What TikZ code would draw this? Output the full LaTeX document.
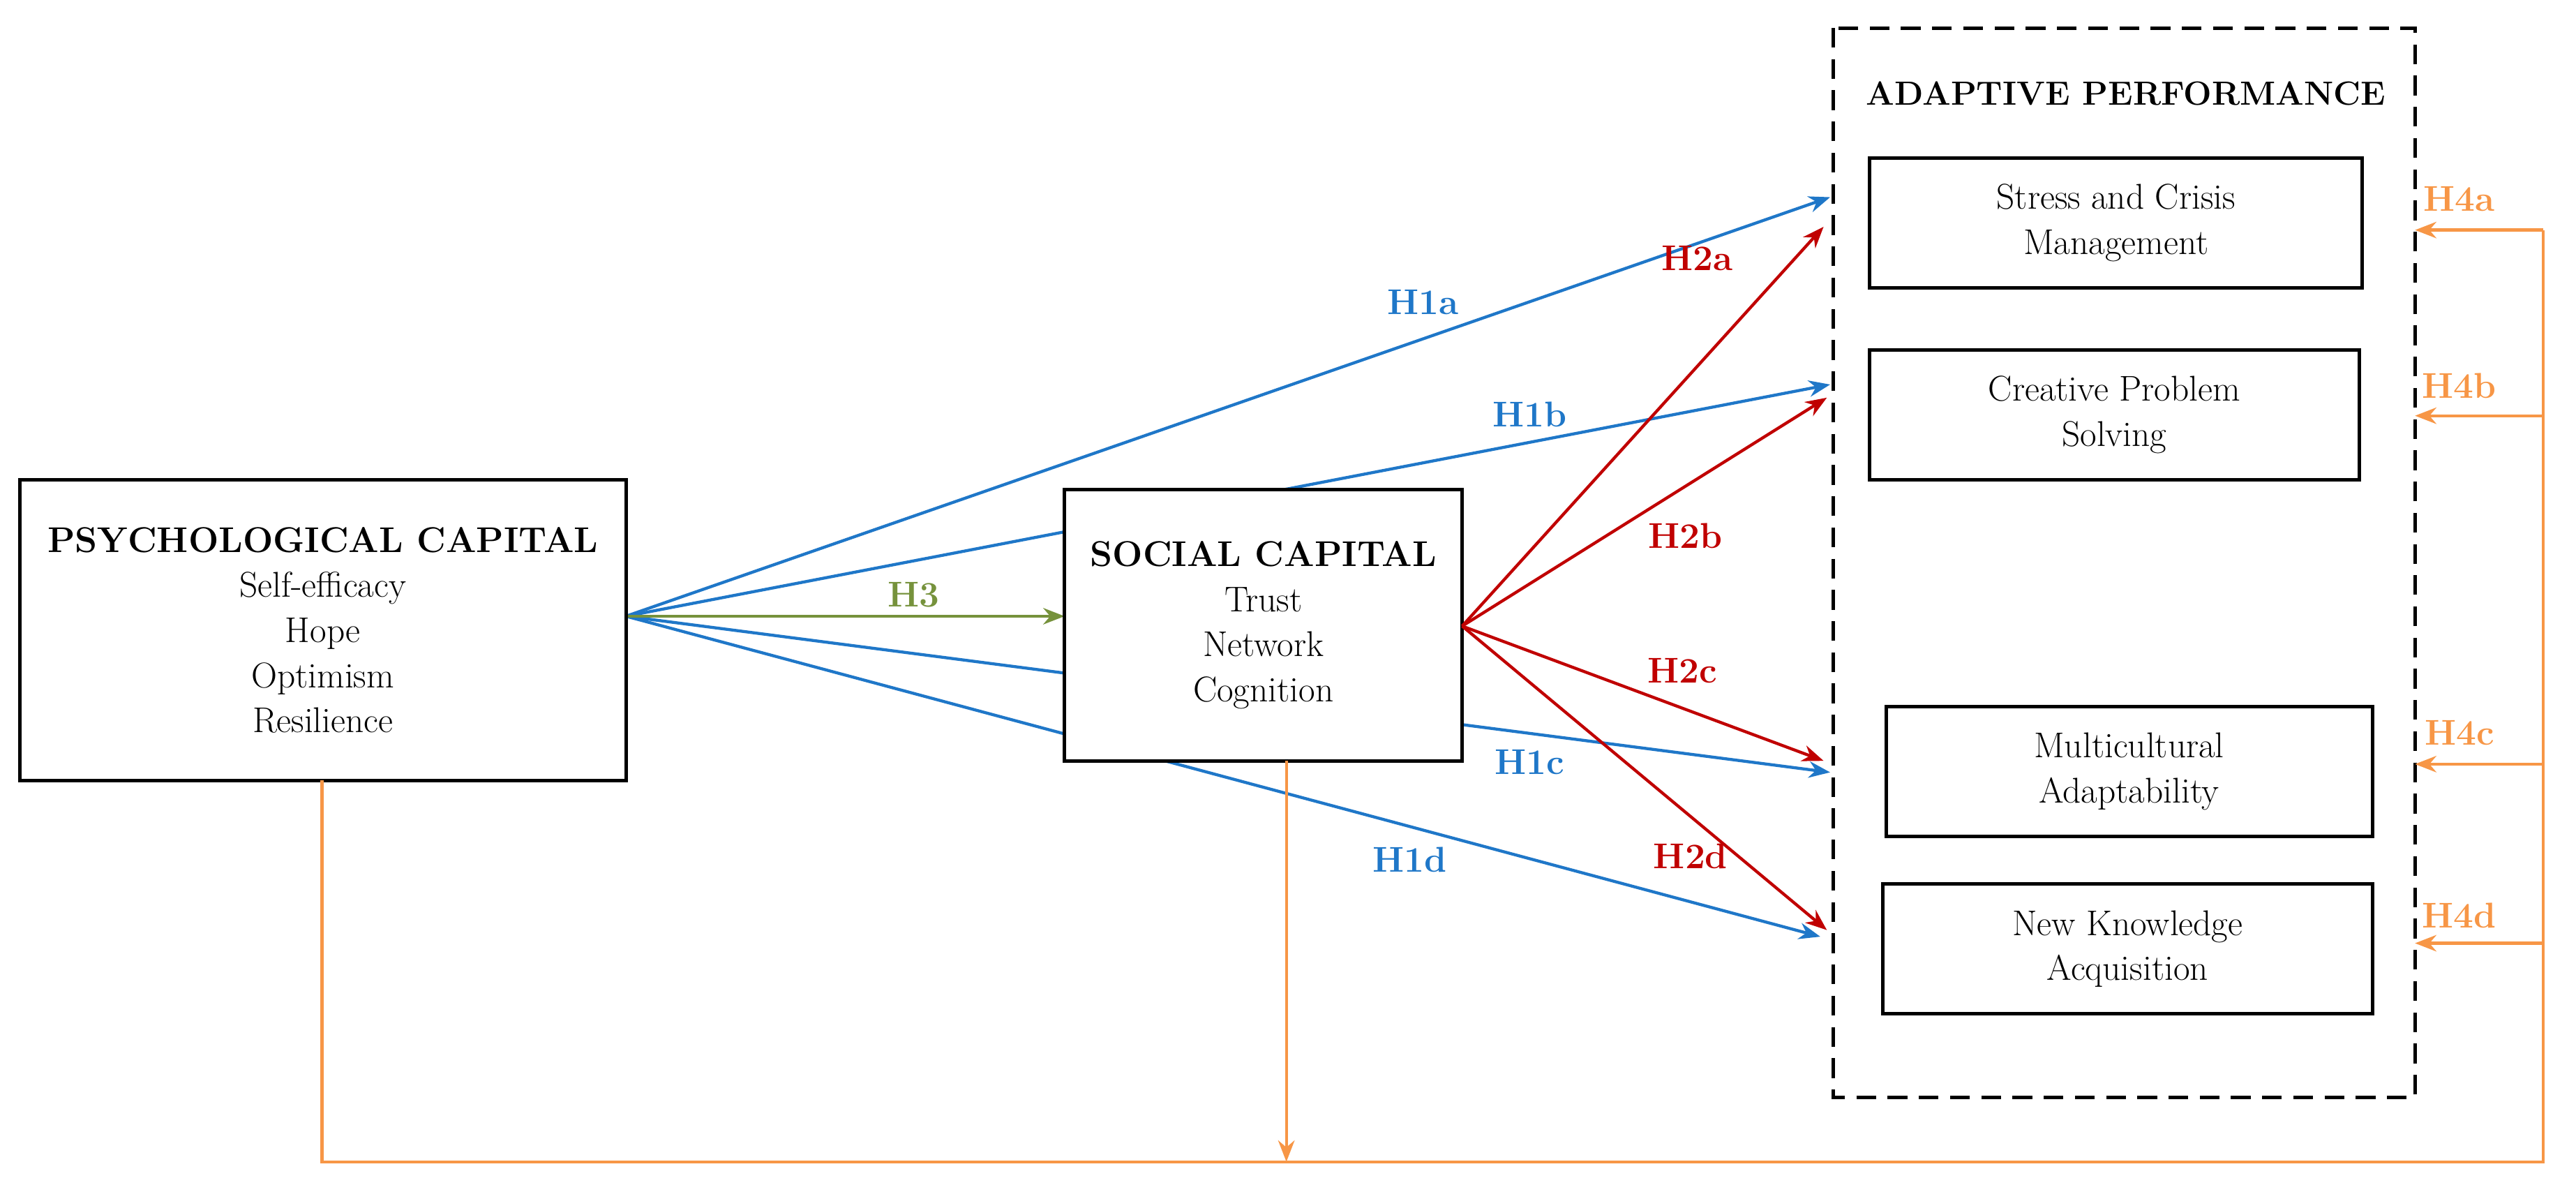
\documentclass[tikz,border=0pt]{standalone}
\usetikzlibrary{arrows.meta}
\definecolor{cblue}{HTML}{1F77C8}
\definecolor{cred}{HTML}{C00000}
\definecolor{cgreen}{HTML}{76923C}
\definecolor{corange}{HTML}{F79646}
\begin{document}
\begin{tikzpicture}[x=0.05cm,y=-0.05cm,
  txt/.style={font=\fontsize{31}{39}\selectfont,align=center},
  box/.style={draw,line width=3pt,fill=white,txt},
  lab/.style={font=\fontsize{31}{39}\selectfont\bfseries},
  arr/.style={line width=2.6pt,-{Stealth[length=0.65cm,width=0.5cm]}},
  ln/.style={line width=2.6pt}]
\useasboundingbox (0,0) rectangle (1568,725);
% anchor coordinates
\coordinate (p) at (381,375);
\coordinate (s) at (890,381);
\coordinate (t1a) at (1114,120);
\coordinate (t1b) at (1114,234);
\coordinate (t1c) at (1114,470);
\coordinate (t1d) at (1108,570);
\coordinate (t2a) at (1110,138);
\coordinate (t2b) at (1112,242);
\coordinate (t2c) at (1110,463);
\coordinate (t2d) at (1112,566);
\coordinate (t3) at (648,375);
% blue
\draw[arr,cblue] (p) -- (t1a);
\draw[arr,cblue] (p) -- (t1b);
\draw[arr,cblue] (p) -- (t1c);
\draw[arr,cblue] (p) -- (t1d);
\draw[arr,cgreen] (p) -- (t3);
% boxes
\node[box,minimum width=369\pgflinewidth,inner sep=0pt] (psy) at (196.5,383.5) [minimum width=18.45cm,minimum height=9.15cm] {\textbf{PSYCHOLOGICAL CAPITAL}\\Self-efficacy\\Hope\\Optimism\\Resilience};
\node[box,inner sep=0pt,minimum width=12.1cm,minimum height=8.25cm] (soc) at (769,380.5) {\textbf{SOCIAL CAPITAL}\\Trust\\Network\\Cognition};
\draw[line width=3pt,dash pattern=on 0.6cm off 0.35cm] (1116,17) rectangle (1470,668);
\node[lab,font=\fontsize{29}{36}\selectfont\bfseries] (ap) at (1294,57) {ADAPTIVE PERFORMANCE};
\node[box,inner sep=0pt,minimum width=15cm,minimum height=3.95cm] (b1) at (1288,135.5) {Stress and Crisis\\Management};
\node[box,inner sep=0pt,minimum width=14.9cm,minimum height=3.95cm] (b2) at (1287,252.5) {Creative Problem\\Solving};
\node[box,inner sep=0pt,minimum width=14.8cm,minimum height=3.95cm] (b3) at (1296,469.5) {Multicultural\\Adaptability};
\node[box,inner sep=0pt,minimum width=14.9cm,minimum height=3.95cm] (b4) at (1295,577.5) {New Knowledge\\Acquisition};
% red
\draw[arr,cred] (s) -- (t2a);
\draw[arr,cred] (s) -- (t2b);
\draw[arr,cred] (s) -- (t2c);
\draw[arr,cred] (s) -- (t2d);
% orange
\coordinate (o0) at (196,475);
\coordinate (o1) at (196,707);
\coordinate (o2) at (1548,707);
\coordinate (o3) at (1548,140);
\coordinate (sb) at (783,463);
\coordinate (sm) at (783,707);
\draw[ln,corange] (o0) -- (o1) -- (o2) -- (o3);
\draw[arr,corange] (sb) -- (sm);
\foreach \y/\n in {140/a,253/b,465/c,574/d}{
  \coordinate (e\n) at (1548,\y);
  \coordinate (f\n) at (1470,\y);
  \draw[arr,corange] (e\n) -- (f\n);
}
% labels
\node[lab,cblue] at (866,184) {H1a};
\node[lab,cblue] at (931,252) {H1b};
\node[lab,cblue] at (931,464) {H1c};
\node[lab,cblue] at (858,523) {H1d};
\node[lab,cgreen] at (556,362) {H3};
\node[lab,cred] at (1033,157) {H2a};
\node[lab,cred] at (1026,326) {H2b};
\node[lab,cred] at (1024,408) {H2c};
\node[lab,cred] at (1029,521) {H2d};
\node[lab,corange] at (1497,121) {H4a};
\node[lab,corange] at (1497,235) {H4b};
\node[lab,corange] at (1497,446) {H4c};
\node[lab,corange] at (1497,557) {H4d};
\end{tikzpicture}
\end{document}
